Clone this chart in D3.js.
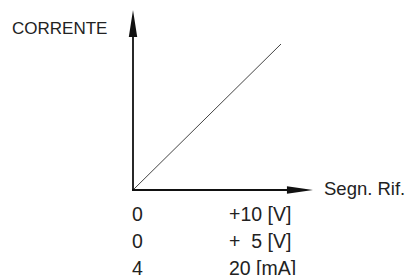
<!DOCTYPE html>
<html>
<head>
<meta charset="utf-8">
<script src="https://cdn.jsdelivr.net/npm/d3@7"></script>
<style>
html,body{margin:0;padding:0;background:#fff;}
svg{display:block;}
text{font-family:"Liberation Sans",Arial,sans-serif;fill:#222;white-space:pre;}
</style>
</head>
<body>
<svg id="c" width="411" height="275"></svg>
<script>
// Data
const yAxisTitle = "CORRENTE";
const xAxisTitle = "Segn. Rif.";
const lineData = [{x: 0, y: 0}, {x: 1, y: 1}];
const startLabels = ["0", "0", "4"];
const endLabels = ["+10 [V]", "+  5 [V]", "20 [mA]"];
const axisExtentX = 1.216;
const axisExtentY = 1.233;

const svg = d3.select("#c");
const x = d3.scaleLinear().domain([0, 1]).range([133, 281]);
const y = d3.scaleLinear().domain([0, 1]).range([190, 44]);

// diagonal line
svg.append("path")
  .datum(lineData)
  .attr("d", d3.line().x(d => x(d.x)).y(d => y(d.y)))
  .attr("fill", "none")
  .attr("stroke", "#444")
  .attr("stroke-width", 1);

// axes
const x0 = x(0), y0 = y(0);
const xEnd = x(axisExtentX), yEnd = y(axisExtentY);
svg.append("line").attr("x1", x0).attr("y1", y0 + 1).attr("x2", x0).attr("y2", yEnd + 20)
  .attr("stroke", "#111").attr("stroke-width", 1.8);
svg.append("line").attr("x1", x0 - 1).attr("y1", y0).attr("x2", xEnd - 20).attr("y2", y0)
  .attr("stroke", "#111").attr("stroke-width", 1.8);

// arrowheads
svg.append("path")
  .attr("d", `M${x0},${yEnd} L${x0 + 4.2},${yEnd + 27} L${x0 - 4.2},${yEnd + 27} Z`)
  .attr("fill", "#111");
svg.append("path")
  .attr("d", `M${xEnd},${y0} L${xEnd - 26},${y0 + 3.8} L${xEnd - 26},${y0 - 3.8} Z`)
  .attr("fill", "#111");

// titles
svg.append("text").attr("x", 12).attr("y", 34).attr("font-size", 17).text(yAxisTitle);
svg.append("text").attr("x", 324).attr("y", 195).attr("font-size", 18.5).text(xAxisTitle);

// range labels
const rowY = d3.scalePoint().domain(d3.range(startLabels.length)).range([221, 275]);
svg.selectAll("text.s").data(startLabels).join("text")
  .attr("class", "s").attr("x", x(0) - 1).attr("y", (d, i) => rowY(i))
  .attr("font-size", 19.5).text(d => d);
svg.selectAll("text.e").data(endLabels).join("text")
  .attr("class", "e").attr("x", 229).attr("y", (d, i) => rowY(i))
  .attr("font-size", 19.5).text(d => d);
</script>
</body>
</html>
